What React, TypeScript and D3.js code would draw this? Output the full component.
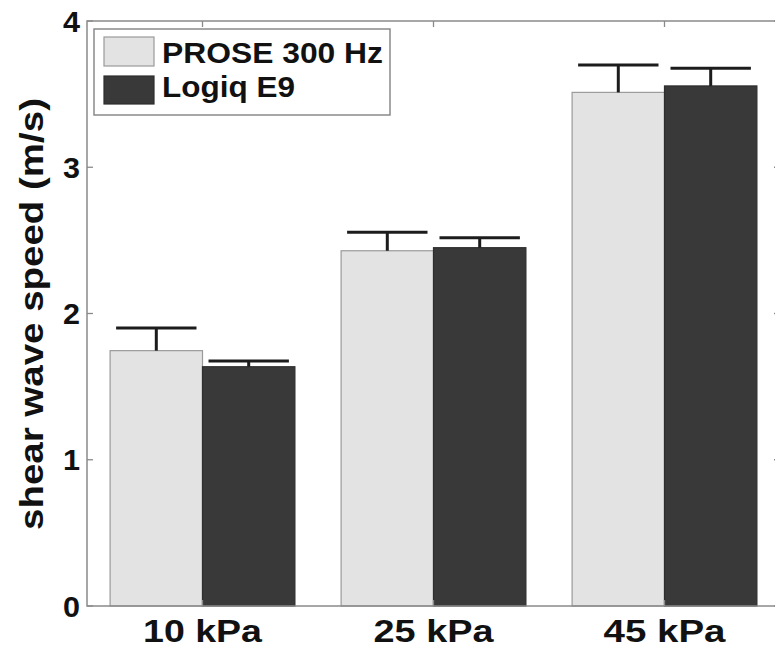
import React from "react";
import * as d3 from "d3";

const categories = ["10 kPa", "25 kPa", "45 kPa"];
const seriesNames = ["PROSE 300 Hz", "Logiq E9"];
const proseMeans = [1.746, 2.429, 3.512];
const proseErr = [0.155, 0.126, 0.187];
const logiqMeans = [1.636, 2.45, 3.556];
const logiqErr = [0.04, 0.068, 0.121];
const yTicks = [0, 1, 2, 3, 4];

const W = 775;
const H = 656;
const M = { left: 87, right: 780, top: 21, bottom: 606 };
const FONT = "'Liberation Sans', Arial, Helvetica, sans-serif";
const fills = ["#e3e3e3", "#393939"];
const strokes = ["#9a9a9a", "#2e2e2e"];

export default function App() {
  const x = d3.scaleBand<string>().domain(categories).range([M.left, M.right]).paddingInner(0).paddingOuter(0);
  const xi = d3
    .scaleBand<string>()
    .domain(seriesNames)
    .range([x.bandwidth() * 0.1, x.bandwidth() * 0.9])
    .padding(0);
  const y = d3.scaleLinear().domain([0, 4]).range([M.bottom, M.top]);
  const series = [
    { name: seriesNames[0], means: proseMeans, errs: proseErr },
    { name: seriesNames[1], means: logiqMeans, errs: logiqErr },
  ];
  const capW = xi.bandwidth() * 0.87;
  const axisColor = "#8a8a8a";
  const xLabelWidths = [119, 120, 122];

  return (
    <svg width={W} height={H} style={{ position: "absolute", left: 0, top: 0, background: "#fff" }}>
      {series.map((s, si) =>
        categories.map((c, ci) => {
          const x0 = (x(c) as number) + (xi(s.name) as number);
          return (
            <rect
              key={`b${si}-${ci}`}
              x={x0}
              y={y(s.means[ci])}
              width={xi.bandwidth()}
              height={y(0) - y(s.means[ci])}
              fill={fills[si]}
              stroke={strokes[si]}
              strokeWidth={1.2}
            />
          );
        })
      )}
      {series.map((s, si) =>
        categories.map((c, ci) => {
          const cx = (x(c) as number) + (xi(s.name) as number) + xi.bandwidth() / 2;
          const top = y(s.means[ci] + s.errs[ci]);
          return (
            <g key={`e${si}-${ci}`} stroke="#1c1c1c" strokeWidth={3}>
              <line x1={cx} x2={cx} y1={y(s.means[ci])} y2={top} />
              <line x1={cx - capW / 2} x2={cx + capW / 2} y1={top} y2={top} />
            </g>
          );
        })
      )}
      <rect x={M.left} y={M.top} width={M.right - M.left} height={M.bottom - M.top} fill="none" stroke={axisColor} strokeWidth={1.5} />
      {yTicks.map((t) => (
        <g key={`yt${t}`}>
          <line x1={M.left} x2={M.left + 6} y1={y(t)} y2={y(t)} stroke={axisColor} strokeWidth={1.3} />
          <line x1={M.right} x2={M.right - 6} y1={y(t)} y2={y(t)} stroke={axisColor} strokeWidth={1.3} />
          <text
            x={80}
            y={y(t) + 10.5}
            textAnchor="end"
            fontFamily={FONT}
            fontWeight="bold"
            fontSize={29}
            fill="#111"
            textLength={17}
            lengthAdjust="spacingAndGlyphs"
          >
            {t}
          </text>
        </g>
      ))}
      {categories.map((c, i) => {
        const cx = (x(c) as number) + x.bandwidth() / 2;
        return (
          <g key={`xt${i}`}>
            <line x1={cx} x2={cx} y1={M.bottom} y2={M.bottom - 6} stroke={axisColor} strokeWidth={1.3} />
            <line x1={cx} x2={cx} y1={M.top} y2={M.top + 6} stroke={axisColor} strokeWidth={1.3} />
            <text
              x={cx}
              y={642}
              textAnchor="middle"
              fontFamily={FONT}
              fontWeight="bold"
              fontSize={31}
              fill="#111"
              textLength={xLabelWidths[i]}
              lengthAdjust="spacingAndGlyphs"
            >
              {c}
            </text>
          </g>
        );
      })}
      <text
        transform={`translate(43, 314) rotate(-90)`}
        textAnchor="middle"
        fontFamily={FONT}
        fontWeight="bold"
        fontSize={34}
        fill="#111"
        textLength={432}
        lengthAdjust="spacingAndGlyphs"
      >
        shear wave speed (m/s)
      </text>
      <rect x={94} y={29} width={296} height={86} fill="#fff" stroke={axisColor} strokeWidth={1.5} />
      {series.map((s, si) => (
        <g key={`lg${si}`}>
          <rect
            x={104}
            y={si === 0 ? 37 : 76}
            width={50}
            height={si === 0 ? 29 : 28}
            fill={fills[si]}
            stroke={strokes[si]}
            strokeWidth={1.2}
          />
          <text
            x={162}
            y={si === 0 ? 63 : 97}
            fontFamily={FONT}
            fontWeight="bold"
            fontSize={29}
            fill="#111"
            textLength={si === 0 ? 221 : 133}
            lengthAdjust="spacingAndGlyphs"
          >
            {s.name}
          </text>
        </g>
      ))}
    </svg>
  );
}
